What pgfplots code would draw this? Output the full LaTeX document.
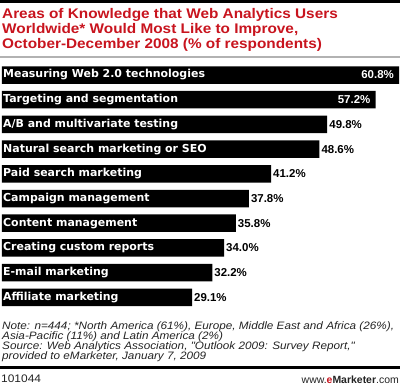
\documentclass[border=0pt]{standalone}
\usepackage{pgfplots}
\pgfplotsset{compat=1.18}
\usepackage{fontspec}
\setmainfont{Liberation Sans}
\newfontfamily\barfont{DejaVu Sans}
\newfontfamily\notefont{Liberation Sans}[FakeStretch=1.09]
\newfontfamily\titlefont{Liberation Sans}[FakeStretch=1.1]
\definecolor{emred}{RGB}{200,20,30}
\definecolor{notegray}{RGB}{35,35,35}
\begin{document}
\begin{tikzpicture}
\begin{axis}[scale only axis,
  width=400bp, height=247bp,
  xbar, bar shift=0pt, bar width=17.5bp,
  xmin=-0.3, xmax=60.95, ymin=-0.5, ymax=9.5,
  axis on top,
  axis line style={draw=none}, tick style={draw=none}, major tick length=0pt,
  xtick=\empty, ytick={0,1,2,3,4,5,6,7,8,9},
  yticklabels={Affiliate marketing, E-mail marketing, Creating custom reports, Content management, Campaign management, Paid search marketing, Natural search marketing or SEO, A/B and multivariate testing, Targeting and segmentation, Measuring Web 2.0 technologies},
  yticklabel style={anchor=west, text=white, inner sep=0pt, xshift=3bp, font=\barfont\bfseries\fontsize{11}{12}\selectfont},
  point meta=x,
  /pgf/number format/assume math mode=true,
  nodes near coords={\pgfmathprintnumber[fixed,fixed zerofill,precision=1]{\pgfplotspointmeta}\%},
  clip=false]
\addplot[fill=black, draw=none, nodes near coords style={anchor=east, text=white, inner sep=0pt, xshift=-5bp, font=\bfseries\fontsize{11.5}{12}\selectfont}]
  coordinates {(60.8,9) (57.2,8)};
\addplot[fill=black, draw=none, nodes near coords style={anchor=west, text=black, inner sep=0pt, xshift=2bp, font=\bfseries\fontsize{11.5}{12}\selectfont}]
  coordinates {(49.8,7) (48.6,6) (41.2,5) (37.8,4) (35.8,3) (34.0,2) (32.2,1) (29.1,0)};
\end{axis}
\begin{scope}[shift={(current axis.north west)}, yshift=62.65bp, x=1bp, y=-1bp]
\path (0,0) rectangle (400,386);
\fill[black] (0,0) rectangle (400,2.5);
\begin{scope}[every node/.style={anchor=base west, inner sep=0pt, text=emred, font=\titlefont\fontsize{14}{15}\selectfont\bfseries}]
\node at (2,18.3) {Areas of Knowledge that Web Analytics Users};
\node at (2,33.3) {Worldwide* Would Most Like to Improve,};
\node at (2,48.3) {October-December 2008 (\% of respondents)};
\end{scope}
\fill[black!30] (0,56) rectangle (400,58);
\begin{scope}[every node/.style={anchor=base west, inner sep=0pt, text=notegray, font=\notefont\fontsize{10.8}{10}\selectfont\itshape}]
\node at (2,329.3) {Note: n=444; *North America (61\%), Europe, Middle East and Africa (26\%),};
\node at (2,339.3) {Asia-Pacific (11\%) and Latin America (2\%)};
\node at (2,349.3) {Source: Web Analytics Association, "Outlook 2009: Survey Report,"};
\node at (2,359.3) {provided to eMarketer, January 7, 2009};
\end{scope}
\fill[black] (0,366) rectangle (400,368.5);
\node[anchor=base west, inner sep=0pt, text=notegray, font=\notefont\fontsize{11}{12}\selectfont] at (1,382.5) {101044};
\node[anchor=base east, inner sep=0pt, text=notegray, font=\fontsize{10.5}{12}\selectfont] at (399,383) {www.\textcolor{emred}{\bfseries e}\textbf{Marketer}.com};
\end{scope}
\end{tikzpicture}
\end{document}
